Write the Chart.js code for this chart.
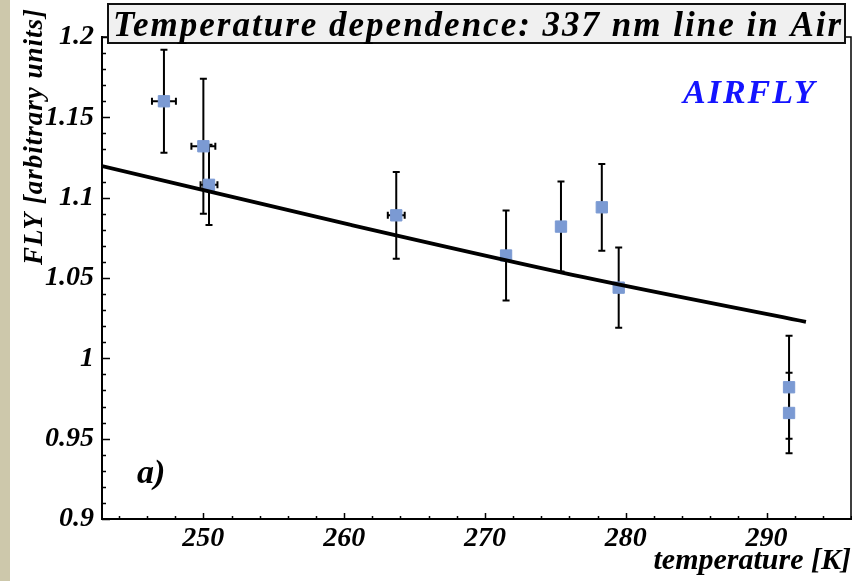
<!DOCTYPE html>
<html>
<head>
<meta charset="utf-8">
<title>Temperature dependence: 337 nm line in Air</title>
<script src="https://cdn.jsdelivr.net/npm/chart.js@4"></script>
<style>
  html, body { margin: 0; padding: 0; background: #fff; overflow: hidden; }
  /* chart.js keeps ~9px free on the right for the x labels, so the canvas runs a bit past the window */
  #wrap { width: 852px; height: 581px; position: relative; overflow: hidden; }
</style>
</head>
<body>
<div id="wrap"><canvas id="flyChart" width="860" height="581"></canvas></div>
<script>
const temps   = [247.2, 250.0, 250.4, 263.7, 271.5, 275.4, 278.3, 279.5, 291.6, 291.6];
const fly     = [1.160, 1.132, 1.108, 1.089, 1.064, 1.082, 1.094, 1.044, 0.982, 0.966];
const flyErr  = [0.032, 0.042, 0.025, 0.027, 0.028, 0.028, 0.027, 0.025, 0.032, 0.025];
const tempErr = [0.85, 0.85, 0.6, 0.6, 0, 0, 0, 0, 0, 0];

// fitted curve, sampled along the drawn line
const fitT   = [242.8, 260.4, 277.0, 292.8];
const fitFly = [1.1197, 1.0832, 1.0505, 1.0227];

// axis ticks
const xTickValues = [250, 260, 270, 280, 290];
const yTickValues = [0.9, 0.95, 1.0, 1.05, 1.1, 1.15, 1.2];

const SERIF = "'Liberation Serif', 'DejaVu Serif', serif";
const MARKER = '#7b9ad3';

const font = (size) => ({ family: SERIF, size: size, style: 'italic', weight: 'bold' });

// error bars, drawn just before the squares
const errorBars = {
  id: 'errorBars',
  beforeDatasetDraw(chart, args) {
    if (args.index !== 1) return;
    const { ctx, scales: { x, y } } = chart;
    ctx.save();
    ctx.strokeStyle = '#000';
    ctx.lineWidth = 2;
    temps.forEach((t, i) => {
      const px = x.getPixelForValue(t);
      const py = y.getPixelForValue(fly[i]);
      const top = y.getPixelForValue(fly[i] + flyErr[i]);
      const bot = y.getPixelForValue(fly[i] - flyErr[i]);
      ctx.beginPath();
      ctx.moveTo(px, top); ctx.lineTo(px, bot);
      ctx.moveTo(px - 3.5, top); ctx.lineTo(px + 3.5, top);
      ctx.moveTo(px - 3.5, bot); ctx.lineTo(px + 3.5, bot);
      if (tempErr[i] > 0) {
        const l = x.getPixelForValue(t - tempErr[i]);
        const r = x.getPixelForValue(t + tempErr[i]);
        ctx.moveTo(l, py); ctx.lineTo(r, py);
        ctx.moveTo(l, py - 3.5); ctx.lineTo(l, py + 3.5);
        ctx.moveTo(r, py - 3.5); ctx.lineTo(r, py + 3.5);
      }
      ctx.stroke();
    });
    ctx.restore();
  }
};

// frame, inward ticks, title box and the other labels
const decorations = {
  id: 'decorations',
  beforeDraw(chart) {
    const ctx = chart.ctx;
    ctx.save();
    ctx.fillStyle = '#cdc8ab';
    ctx.fillRect(0, 0, 10, chart.height);
    ctx.restore();
  },
  afterDraw(chart) {
    const { ctx, chartArea: a, scales: { x, y } } = chart;
    ctx.save();
    ctx.strokeStyle = '#000';

    // top and right of the frame
    ctx.lineWidth = 1.5;
    ctx.beginPath();
    ctx.moveTo(a.left, a.top); ctx.lineTo(a.right, a.top); ctx.lineTo(a.right, a.bottom);
    ctx.stroke();

    // inward tick marks
    ctx.beginPath();
    for (let k = 90; k <= 120; k++) {
      const py = Math.round(y.getPixelForValue(k / 100)) + 0.5;
      const len = k % 5 === 0 ? 8 : 4;
      ctx.moveTo(a.left, py); ctx.lineTo(a.left + len, py);
    }
    for (let t = 244; t <= 296; t += 2) {
      const px = Math.round(x.getPixelForValue(t)) + 0.5;
      const len = t % 10 === 0 ? 6 : 3;
      ctx.moveTo(px, a.bottom); ctx.lineTo(px, a.bottom - len);
    }
    ctx.stroke();

    // title box
    ctx.fillStyle = '#f0f0f0';
    ctx.fillRect(108, 4, 737, 39);
    ctx.lineWidth = 2;
    ctx.strokeStyle = '#111';
    ctx.strokeRect(108, 4, 737, 39);
    ctx.fillStyle = '#000';
    ctx.font = `italic bold 35px ${SERIF}`;
    ctx.letterSpacing = '2px';
    ctx.textAlign = 'center';
    ctx.textBaseline = 'alphabetic';
    ctx.fillText('Temperature dependence: 337 nm line in Air', 478, 36);

    // AIRFLY tag
    ctx.fillStyle = '#1414ff';
    ctx.font = `italic bold 34px ${SERIF}`;
    ctx.textAlign = 'left';
    ctx.fillText('AIRFLY', 683, 103);

    // panel label
    ctx.fillStyle = '#000';
    ctx.font = `italic bold 34px ${SERIF}`;
    ctx.letterSpacing = '0px';
    ctx.fillText('a)', 137, 483);

    // y axis title
    ctx.translate(42, 265);
    ctx.rotate(-Math.PI / 2);
    ctx.font = `italic bold 27px ${SERIF}`;
    ctx.letterSpacing = '1px';
    ctx.fillText('FLY [arbitrary units]', 0, 0);
    ctx.restore();
  }
};

const ctx = document.getElementById('flyChart').getContext('2d');

new Chart(ctx, {
  type: 'scatter',
  data: {
    datasets: [
      {
        type: 'line',
        label: 'fit',
        data: fitT.map((t, i) => ({ x: t, y: fitFly[i] })),
        borderColor: '#000',
        borderWidth: 3.8,
        pointRadius: 0,
        fill: false,
        cubicInterpolationMode: 'monotone'
      },
      {
        label: 'FLY',
        data: temps.map((t, i) => ({ x: t, y: fly[i] })),
        pointStyle: 'rect',
        pointRadius: 8,
        pointBackgroundColor: MARKER,
        pointBorderColor: MARKER,
        pointBorderWidth: 1
      }
    ]
  },
  options: {
    responsive: false,
    animation: false,
    layout: { padding: { top: 37, right: 0, left: 0, bottom: 0 } },
    plugins: {
      legend: { display: false },
      tooltip: { enabled: false }
    },
    scales: {
      x: {
        type: 'linear',
        min: 242.8,
        max: 296,
        afterBuildTicks: (scale) => { scale.ticks = xTickValues.map(v => ({ value: v })); },
        afterFit: (scale) => { scale.height = 62; },
        grid: { display: false, drawTicks: false },
        border: { display: true, color: '#000', width: 2 },
        ticks: { color: '#000', font: font(28), padding: 3, maxRotation: 0 },
        title: {
          display: true,
          text: 'temperature [K]',
          align: 'end',
          color: '#000',
          font: font(30),
          padding: { top: 1, bottom: 2 }
        }
      },
      y: {
        type: 'linear',
        min: 0.9,
        max: 1.2,
        afterBuildTicks: (scale) => { scale.ticks = yTickValues.map(v => ({ value: v })); },
        afterFit: (scale) => { scale.width = 102; },
        grid: { display: false, drawTicks: false },
        border: { display: true, color: '#000', width: 2 },
        ticks: {
          color: '#000',
          font: font(28),
          padding: 8,
          callback: (v) => String(+v.toFixed(2))
        }
      }
    }
  },
  plugins: [errorBars, decorations]
});
</script>
</body>
</html>
